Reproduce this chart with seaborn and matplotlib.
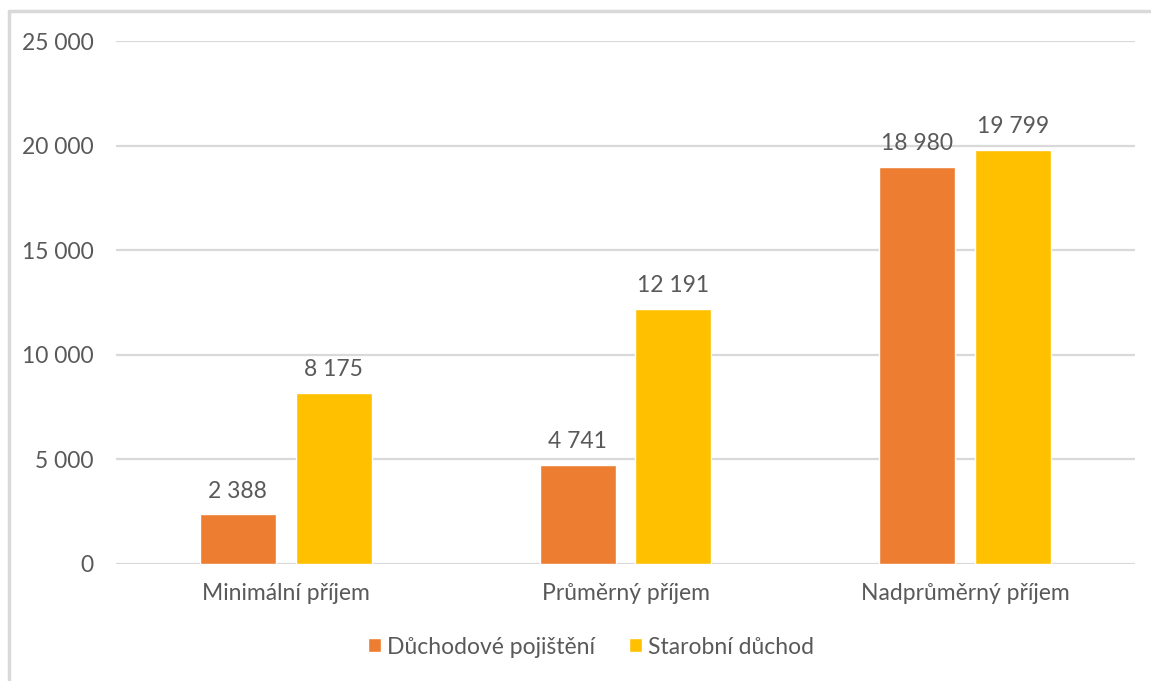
import pandas as pd
import matplotlib.pyplot as plt
import seaborn as sns
from matplotlib.lines import Line2D

# data
kategorie = ['Minimální příjem', 'Průměrný příjem', 'Nadprůměrný příjem']
duchodove_pojisteni = [2388, 4741, 18980]
starobni_duchod = [8175, 12191, 19799]
serie = ['Důchodové pojištění', 'Starobní důchod']

df = pd.DataFrame({
    'kategorie': kategorie * 2,
    'hodnota': duchodove_pojisteni + starobni_duchod,
    'serie': [serie[0]] * 3 + [serie[1]] * 3,
})

sns.set_style('white')
plt.rcParams['font.family'] = ['Lato', 'DejaVu Sans']
seda = '#595959'
fs = 16.5

fig = plt.figure(figsize=(11.51, 6.81), dpi=100)
ax = fig.add_axes([116 / 1151, 1 - 564 / 681, (1135 - 116) / 1151, (564 - 41) / 681])

sns.barplot(data=df, x='kategorie', y='hodnota', hue='serie',
            palette=['#ED7D31', '#FFC000'], width=0.565, gap=0.208,
            saturation=1, ax=ax, zorder=3)

ax.set_ylim(0, 25000)
ax.set_xlim(-0.5, 2.5)
ax.set_yticks(range(0, 25001, 5000))
ax.set_yticklabels([f'{v:,}'.replace(',', ' ') for v in range(0, 25001, 5000)])
ax.grid(axis='y', color='#D9D9D9', linewidth=1.6, zorder=0)
ax.grid(axis='x', visible=False)
for s in ax.spines.values():
    s.set_visible(False)
ax.tick_params(axis='both', length=0, labelsize=fs, labelcolor=seda)
ax.tick_params(axis='y', pad=16)
ax.tick_params(axis='x', pad=14)
ax.set_xlabel('')
ax.set_ylabel('')

for cont in ax.containers:
    ax.bar_label(cont, labels=[f'{v:,.0f}'.replace(',', ' ') for v in cont.datavalues],
                 padding=9, fontsize=fs, color=seda)

leg = ax.legend(loc='center', bbox_to_anchor=(591 / 1151, 1 - 647 / 681),
                bbox_transform=fig.transFigure, ncol=2, frameon=False,
                fontsize=fs, handlelength=0.55, handleheight=0.55,
                handletextpad=0.25, columnspacing=1.5, labelcolor=seda)

# chart border
fig.add_artist(Line2D([9 / 1151, 9 / 1151], [0, 1 - 11 / 681], transform=fig.transFigure,
                      color='#D9D9D9', linewidth=2.5))
fig.add_artist(Line2D([9 / 1151, 1], [1 - 11 / 681, 1 - 11 / 681], transform=fig.transFigure,
                      color='#D9D9D9', linewidth=2.5))

fig.savefig('out.png', dpi=100)
